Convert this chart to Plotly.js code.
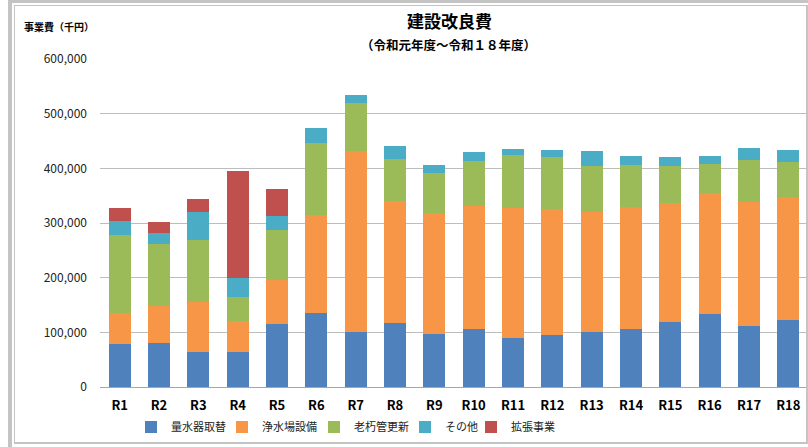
<!DOCTYPE html>
<html>
<head>
<meta charset="utf-8">
<script src="https://cdn.plot.ly/plotly-3.0.1.min.js"></script>
<style>
html,body{margin:0;padding:0;background:#fff;}
#wrap{position:relative;width:808px;height:447px;overflow:hidden;}
#chart{position:absolute;left:0;top:0;width:808px;height:447px;}
.fr{position:absolute;background:#c4c4c4;pointer-events:none;}
</style>
</head>
<body>
<div id="wrap">
<div id="chart"></div>
<div class="fr" style="left:8px;top:0;width:800px;height:3px;"></div>
<div class="fr" style="left:8px;top:0;width:4px;height:447px;"></div>
<div class="fr" style="left:14px;top:5px;width:794px;height:1px;"></div>
<div class="fr" style="left:14px;top:5px;width:1px;height:439px;"></div>
<div class="fr" style="left:14px;top:442px;width:794px;height:2px;"></div>
<div class="fr" style="left:806px;top:5px;width:2px;height:439px;"></div>
</div>
<script>
var categories = ["R1","R2","R3","R4","R5","R6","R7","R8","R9","R10","R11","R12","R13","R14","R15","R16","R17","R18"];
var seriesNames = ["量水器取替","浄水場設備","老朽管更新","その他","拡張事業"];
var meterReplacement = [78000,80000,64000,64000,115000,135000,100000,117000,97000,106000,89000,95000,100000,106000,119000,133000,111000,122000];
var purificationPlant = [57000,68500,92000,56000,81000,179000,332000,224000,222000,226000,239000,230000,221000,223000,217000,222000,228000,225000];
var agedPipeRenewal = [143000,113000,113000,45000,91000,133000,88000,76000,72000,82000,96000,95000,84000,78000,69000,53000,77000,65000];
var others = [26000,20000,51000,35000,26000,26000,15000,23000,16000,15000,12000,13000,27500,15000,15000,15000,22000,22000];
var expansion = [24000,20000,24000,194500,50000,0,0,0,0,0,0,0,0,0,0,0,0,0];
var yTicks = [0,100000,200000,300000,400000,500000,600000];

var colors = ["#4F81BD","#F79646","#9BBB59","#4BACC6","#C0504D"];
var legendWidths = [46,47,46,21,50];
var values = [meterReplacement, purificationPlant, agedPipeRenewal, others, expansion];
var traces = values.map(function(v,i){
  return {type:"bar", name:seriesNames[i], x:categories, y:v, legendwidth:legendWidths[i],
    marker:{color:colors[i], line:{width:0}}, hoverinfo:"x+y+name"};
});
var jp = '"Noto Sans CJK JP", "Noto Sans", sans-serif';
var layout = {
  width:808, height:447,
  margin:{l:100, r:0, t:59, b:60, pad:0},
  paper_bgcolor:"#ffffff", plot_bgcolor:"#ffffff",
  barmode:"stack", bargap:0.44,
  showlegend:true,
  legend:{orientation:"h", x:0.0438, xanchor:"left", y:-0.122, yanchor:"middle",
    font:{family:jp, size:11, color:"#222"}, traceorder:"normal",
    bgcolor:"rgba(0,0,0,0)"},
  xaxis:{type:"category", tickfont:{family:jp, size:13, color:"#000", weight:"bold"},
    showline:true, linecolor:"#a6a6a6", linewidth:1, ticks:"", showgrid:false,
    ticklabelstandoff:6, fixedrange:true},
  yaxis:{range:[0,600000], tickvals:yTicks, tickformat:",d",
    tickfont:{family:jp, size:12, color:"#222"}, showgrid:true, gridcolor:"#bdbdbd",
    gridwidth:1, zeroline:false, ticks:"", ticklabelstandoff:12, showline:false, fixedrange:true},
  separators:".,",
  annotations:[
    {text:"<b>建設改良費</b>", xref:"paper", yref:"paper", x:(449-100)/708, y:(387-21)/328,
     xanchor:"center", yanchor:"middle", showarrow:false, font:{family:jp, size:17, color:"#000"}},
    {text:"<b>（令和元年度～令和１８年度）</b>", xref:"paper", yref:"paper", x:(448-100)/708, y:(387-45)/328,
     xanchor:"center", yanchor:"middle", showarrow:false, font:{family:jp, size:12.5, color:"#000"}},
    {text:"<b>事業費（千円）</b>", xref:"paper", yref:"paper", x:(22-100)/708, y:(387-26.5)/328,
     xanchor:"left", yanchor:"middle", showarrow:false, font:{family:jp, size:10, color:"#000"}}
  ]
};
Plotly.newPlot("chart", traces, layout, {displayModeBar:false, staticPlot:true});
</script>
</body>
</html>
